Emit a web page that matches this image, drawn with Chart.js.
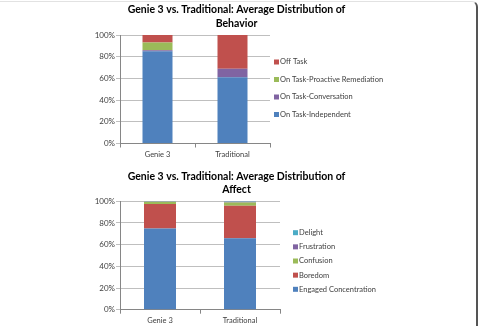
<!DOCTYPE html>
<html>
<head>
<meta charset="utf-8">
<script src="https://cdn.jsdelivr.net/npm/chart.js@4.4.0/dist/chart.umd.min.js"></script>
<style>
  body { margin: 0; background: #fff; }
  #wrap { position: relative; width: 479px; height: 326px; overflow: hidden; }
  .box { position: absolute; left: 0; width: 479px; height: 163px; }
  #frame {
    position: absolute; left: -10px; top: 1px; width: 488px; height: 340px;
    border-top: 1px solid #e2e2e2; border-right: 2px solid #555;
    border-top-right-radius: 6px; box-sizing: border-box; pointer-events: none;
  }
</style>
</head>
<body>
<div id="wrap">
  <div class="box" style="top:0"><canvas id="behaviorChart" width="479" height="163"></canvas></div>
  <div class="box" style="top:163px"><canvas id="affectChart" width="479" height="163"></canvas></div>
  <div id="frame"></div>
</div>
<script>
const categories = ["Genie 3", "Traditional"];

const behaviorTitle = ["Genie 3 vs. Traditional: Average Distribution of", "Behavior"];
const onTaskIndependent = [85, 61];
const onTaskConversation = [1, 8];
const onTaskProactive = [7, 0];
const offTask = [7, 31];

const affectTitle = ["Genie 3 vs. Traditional: Average Distribution of", "Affect"];
const engagedConcentration = [75, 66];
const boredom = [22.5, 30];
const confusion = [2, 3];
const frustration = [0.3, 0.5];
const delight = [0.2, 0.5];

const yTicks = [0, 20, 40, 60, 80, 100];

const BLUE = "#4f81bd", RED = "#c0504d", GREEN = "#9bbb59", PURPLE = "#8064a2", AQUA = "#4bacc6";
const FONT = "Lato, 'Liberation Sans', sans-serif";
const TEXT = "#404040";

// legend drawn to the right of the plot, last dataset on top like Excel
const sideLegend = {
  id: "sideLegend",
  afterDraw(chart, args, opts) {
    const { ctx, chartArea } = chart;
    const sets = chart.data.datasets.slice().reverse();
    ctx.save();
    ctx.font = "7.5px " + FONT;
    ctx.textBaseline = "middle";
    sets.forEach((ds, i) => {
      const x = chartArea.right + opts.dx;
      const y = chartArea.top + opts.dy + i * opts.gap;
      ctx.fillStyle = ds.backgroundColor;
      ctx.fillRect(x, y - 2.5, 5, 5);
      ctx.fillStyle = TEXT;
      ctx.fillText(ds.label, x + 6, y);
    });
    ctx.restore();
  }
};

function makeChart(id, title, datasets, o) {
  return new Chart(document.getElementById(id), {
    type: "bar",
    data: { labels: categories, datasets },
    options: {
      responsive: false,
      animation: false,
      layout: { padding: { left: 0, right: 6, top: 0, bottom: 0 } },
      datasets: { bar: { barPercentage: 0.4, categoryPercentage: 1 } },
      plugins: {
        legend: { display: false },
        tooltip: { enabled: false },
        title: {
          display: true,
          text: title,
          color: "#000",
          font: { family: FONT, size: 10.5, weight: "bold", lineHeight: o.titleLine / 10.5 },
          padding: { top: o.titleTop, bottom: o.titleBottom }
        },
        sideLegend: o.legend
      },
      scales: {
        x: {
          stacked: true,
          afterFit: s => { s.height = o.xHeight; },
          grid: { offset: true, drawOnChartArea: false, tickLength: 4, color: "#868686" },
          border: { color: "#868686" },
          ticks: { color: TEXT, font: { family: FONT, size: 7.5 }, padding: o.xPad }
        },
        y: {
          stacked: true,
          min: 0,
          max: 100,
          afterFit: s => { s.width = 120; },
          afterBuildTicks: s => { s.ticks = yTicks.map(v => ({ value: v })); },
          grid: { color: "#bfbfbf", tickLength: 4 },
          border: { color: "#868686" },
          ticks: { color: TEXT, font: { family: FONT, size: 8 }, padding: 1, callback: v => v + "%" }
        },
        spacer: {
          position: "right",
          afterFit: s => { s.width = o.rightSpace; },
          grid: { display: false },
          border: { display: false },
          ticks: { display: false }
        }
      }
    },
    plugins: [sideLegend]
  });
}

makeChart("behaviorChart", behaviorTitle, [
  { label: "On Task-Independent", data: onTaskIndependent, backgroundColor: BLUE },
  { label: "On Task-Conversation", data: onTaskConversation, backgroundColor: PURPLE },
  { label: "On Task-Proactive Remediation", data: onTaskProactive, backgroundColor: GREEN },
  { label: "Off Task", data: offTask, backgroundColor: RED }
], {
  titleLine: 14, titleTop: 3, titleBottom: 4,
  xHeight: 19.5, xPad: 2.5, rightSpace: 203,
  legend: { dx: 4, dy: 27, gap: 17.5 }
});

makeChart("affectChart", affectTitle, [
  { label: "Engaged Concentration", data: engagedConcentration, backgroundColor: BLUE },
  { label: "Boredom", data: boredom, backgroundColor: RED },
  { label: "Confusion", data: confusion, backgroundColor: GREEN },
  { label: "Frustration", data: frustration, backgroundColor: PURPLE },
  { label: "Delight", data: delight, backgroundColor: AQUA }
], {
  titleLine: 13.4, titleTop: 6.6, titleBottom: 4.9,
  xHeight: 16.3, xPad: 2, rightSpace: 193,
  legend: { dx: 13, dy: 31.4, gap: 14.15 }
});
</script>
</body>
</html>
